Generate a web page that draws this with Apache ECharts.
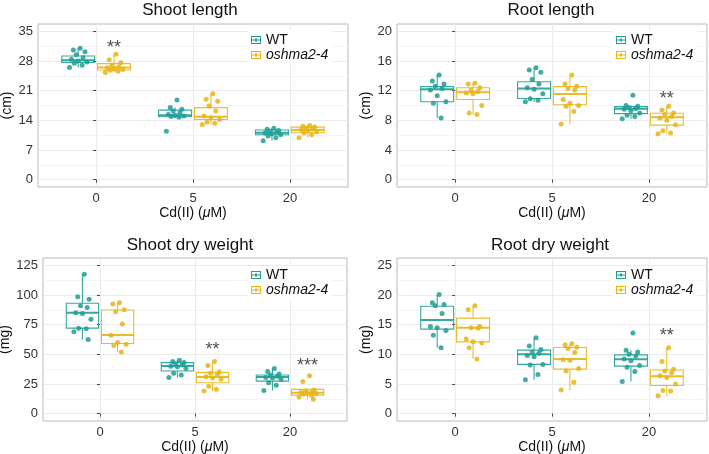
<!DOCTYPE html>
<html>
<head>
<meta charset="utf-8">
<script src="https://cdn.jsdelivr.net/npm/echarts@6/dist/echarts.min.js"></script>
<style>
  html, body { margin: 0; padding: 0; background: #fff; }
  #chart { width: 709px; height: 454px; }
</style>
</head>
<body>
<div id="chart"></div>
<script>
const doses = ['0', '5', '20'];

// Shoot length (cm)
const shootLenTicks = [0, 7, 14, 21, 28, 35];
const shootLenWT = [
  [31.0, 30.6, 30.2, 29.5, 28.8, 28.4, 28.0, 27.8, 27.5, 27.0, 26.5],
  [18.8, 17.0, 16.6, 16.2, 15.8, 15.4, 15.2, 15.0, 14.9, 14.7, 11.4],
  [12.1, 11.9, 11.6, 11.4, 11.2, 11.0, 10.8, 10.6, 10.3, 9.9, 9.2]
];
const shootLenMut = [
  [29.6, 28.3, 27.6, 27.0, 26.6, 26.4, 26.2, 26.0, 25.8, 25.6, 25.3],
  [20.3, 19.0, 18.5, 17.4, 16.2, 15.0, 14.6, 14.2, 13.6, 13.3, 13.0],
  [12.8, 12.6, 12.4, 12.2, 12.0, 11.8, 11.6, 11.3, 11.0, 10.6, 9.9]
];
// [lower whisker, Q1, median, Q3, upper whisker]
const shootLenWTBox = [[26.5, 27.65, 28.2, 29.2, 31.0], [14.5, 14.85, 15.2, 16.4, 17.0], [9.2, 10.6, 11.05, 11.7, 12.1]];
const shootLenMutBox = [[25.3, 25.9, 26.5, 27.4, 29.6], [13.0, 14.2, 14.85, 17.0, 20.3], [9.9, 11.05, 11.7, 12.4, 12.8]];
const shootLenStars = [[0, 32.0, '**']];

// Root length (cm)
const rootLenTicks = [0, 4, 8, 12, 16, 20];
const rootLenWT = [
  [14.1, 13.3, 12.9, 12.6, 12.3, 12.1, 11.3, 10.5, 10.3, 8.3],
  [15.1, 14.8, 14.5, 13.5, 12.9, 12.4, 12.2, 11.6, 10.9, 10.7, 10.5],
  [11.4, 10.0, 9.9, 9.7, 9.6, 9.5, 9.3, 9.0, 8.7, 8.5, 8.2]
];
const rootLenMut = [
  [13.0, 12.9, 12.4, 12.1, 11.9, 11.7, 11.6, 10.0, 9.0, 8.8],
  [14.1, 12.9, 12.6, 12.3, 12.1, 10.8, 10.3, 10.0, 9.9, 9.2, 7.5],
  [9.9, 9.4, 9.0, 8.8, 8.5, 8.3, 8.0, 7.4, 6.6, 6.3, 6.2]
];
const rootLenWTBox = [[8.3, 10.5, 12.2, 12.55, 14.1], [10.5, 10.95, 12.3, 13.2, 15.1], [8.2, 8.9, 9.55, 9.85, 10.0]];
const rootLenMutBox = [[8.8, 10.8, 11.8, 12.4, 13.0], [7.5, 10.1, 11.55, 12.55, 14.1], [6.2, 7.35, 8.4, 8.95, 9.9]];
const rootLenStars = [[2, 11.4, '**']];

// Shoot dry weight (mg)
const shootDwTicks = [0, 25, 50, 75, 100, 125];
const shootDwWT = [
  [117.5, 98.5, 96.5, 91, 89.5, 85, 84.5, 79.5, 72, 71.5, 69, 62.5],
  [45, 44, 43, 42, 41, 40, 39.5, 38, 34, 32.5, 30.5],
  [38, 35.5, 33.5, 32.5, 31.5, 30.5, 30, 29, 26, 24, 19.5]
];
const shootDwMut = [
  [93.5, 92.5, 87.5, 86, 75.5, 66, 60, 58.5, 57.5, 52],
  [44, 40.5, 35, 34, 33, 31, 30, 29, 23, 20.5, 19],
  [32, 27, 20, 19, 18.5, 18, 17.5, 17, 16.5, 15.5, 14, 12]
];
const shootDwWTBox = [[62.5, 72.1, 85.1, 93.1, 117.5], [30.5, 35.9, 40.2, 43.0, 45], [19.5, 27.4, 30.8, 32.5, 38]];
const shootDwMutBox = [[52, 59.1, 66.2, 87.4, 93.5], [19, 26.0, 30.8, 34.8, 44], [12, 15.6, 17.6, 20.4, 20.5]];
const shootDwStars = [[1, 57, '**'], [2, 43.5, '***']];

// Root dry weight (mg)
const rootDwTicks = [0, 5, 10, 15, 20, 25];
const rootDwWT = [
  [20.1, 18.7, 18.4, 18.2, 16.9, 14.7, 14.5, 14.0, 13.2, 11.1],
  [12.8, 11.4, 10.8, 10.4, 10.2, 9.8, 9.6, 8.3, 8.2, 6.6, 5.7],
  [13.6, 10.7, 10.4, 10.0, 9.7, 9.2, 8.9, 8.1, 7.8, 7.1, 5.4]
];
const rootDwMut = [
  [18.2, 17.5, 14.7, 14.5, 14.4, 12.6, 12.1, 11.9, 11.1, 9.2],
  [11.8, 11.6, 11.2, 11.0, 10.3, 9.1, 9.0, 7.6, 7.2, 5.3, 4.0],
  [11.1, 8.8, 7.5, 7.2, 6.9, 6.4, 6.1, 5.0, 3.9, 3.8, 3.0]
];
const rootDwWTBox = [[11.1, 14.25, 15.8, 18.1, 20.1], [5.7, 8.3, 10.0, 10.7, 12.8], [5.4, 8.0, 9.15, 9.9, 10.7]];
const rootDwMutBox = [[9.2, 12.1, 14.5, 16.1, 18.2], [4.0, 7.5, 9.2, 11.15, 11.8], [3.0, 4.75, 6.3, 7.35, 11.1]];
const rootDwStars = [[2, 13.75, '**']];

const TEAL = '#1f9e95';
const GOLD = '#e8b515';
const FONT = '"Liberation Sans", Arial, Helvetica, sans-serif';
const DODGE = 0.185;
const HALF = 0.17;
// horizontal jitter of the dots (fixed, only for placement)
const jitter = [0.02, -0.05, 0.07, -0.02, 0.05, -0.07, 0.0, 0.09, -0.04, 0.04, -0.09, 0.06];

const panels = [
  { title: 'Shoot length', unit: '(cm)', ticks: shootLenTicks, wt: shootLenWT, mut: shootLenMut,
    wtBox: shootLenWTBox, mutBox: shootLenMutBox, stars: shootLenStars,
    grid: { left: 38, top: 24, width: 310, height: 163 }, titleX: 190, titleTop: 2, yGap: 20, legendLeft: 248, legendTop: 31 },
  { title: 'Root length', unit: '(cm)', ticks: rootLenTicks, wt: rootLenWT, mut: rootLenMut,
    wtBox: rootLenWTBox, mutBox: rootLenMutBox, stars: rootLenStars,
    grid: { left: 397, top: 24, width: 310, height: 163 }, titleX: 551, titleTop: 2, yGap: 20, legendLeft: 613, legendTop: 31 },
  { title: 'Shoot dry weight', unit: '(mg)', ticks: shootDwTicks, wt: shootDwWT, mut: shootDwMut,
    wtBox: shootDwWTBox, mutBox: shootDwMutBox, stars: shootDwStars,
    grid: { left: 43, top: 258, width: 304, height: 163 }, titleX: 190, titleTop: 237, yGap: 24, legendLeft: 248, legendTop: 266 },
  { title: 'Root dry weight', unit: '(mg)', ticks: rootDwTicks, wt: rootDwWT, mut: rootDwMut,
    wtBox: rootDwWTBox, mutBox: rootDwMutBox, stars: rootDwStars,
    grid: { left: 397, top: 258, width: 310, height: 163 }, titleX: 550, titleTop: 237, yGap: 20, legendLeft: 613, legendTop: 266 }
];

const boxRender = (offset, color) => (params, api) => {
  const x = api.value(0) + offset;
  const lo = api.coord([x, api.value(1)]);
  const q1 = api.coord([x, api.value(2)]);
  const md = api.coord([x, api.value(3)]);
  const q3 = api.coord([x, api.value(4)]);
  const hi = api.coord([x, api.value(5)]);
  const hw = api.size([HALF, 0])[0];
  const cx = lo[0];
  const line = { stroke: color, lineWidth: 1.1, opacity: 0.9 };
  return {
    type: 'group',
    children: [
      { type: 'line', shape: { x1: cx, y1: hi[1], x2: cx, y2: q3[1] }, style: line },
      { type: 'line', shape: { x1: cx, y1: q1[1], x2: cx, y2: lo[1] }, style: line },
      { type: 'rect', shape: { x: cx - hw, y: q3[1], width: 2 * hw, height: q1[1] - q3[1] },
        style: { fill: 'rgba(255,255,255,0)', stroke: color, lineWidth: 1.1, opacity: 0.9 } },
      { type: 'line', shape: { x1: cx - hw, y1: md[1], x2: cx + hw, y2: md[1] }, style: { stroke: color, lineWidth: 2, opacity: 0.9 } }
    ]
  };
};

const pointsOf = (groups, offset) => {
  const out = [];
  groups.forEach((vals, i) => {
    vals.forEach((v, j) => out.push([i + offset + jitter[j % jitter.length], v]));
  });
  return out;
};

const option = {
  animation: false,
  title: [], grid: [], xAxis: [], yAxis: [], legend: [], series: []
};

const legendIcon = 'path://M0,0H10V8H0Z M1,1V7H9V1Z M1,3.5H9V4.5H1Z M4,2.5H6V5.5H4Z';

panels.forEach((p, k) => {
  const t = p.ticks;
  const step = t[1] - t[0];
  const pad = (t[t.length - 1] - t[0]) * 0.05;
  const minor = t.slice(0, -1).map(v => v + step / 2);

  option.title.push({
    text: p.title, left: p.titleX, top: p.titleTop, textAlign: 'center', padding: 0,
    textStyle: { fontFamily: FONT, fontSize: 17, fontWeight: 'normal', color: '#111' }
  });
  option.grid.push(Object.assign({ show: true, borderColor: '#b9b9b9', borderWidth: 1, backgroundColor: '#fff', outerBoundsMode: 'none' }, p.grid));
  option.xAxis.push({
    type: 'value', gridIndex: k, min: -0.6, max: 2.6,
    name: 'Cd(II) ({i|μ}M)', nameLocation: 'middle', nameGap: 18,
    nameTextStyle: { fontFamily: FONT, fontSize: 14, color: '#111', rich: { i: { fontFamily: FONT, fontSize: 14, fontStyle: 'italic', color: '#111' } } },
    axisLine: { show: false },
    axisTick: { show: true, length: 3, customValues: [0, 1, 2], lineStyle: { color: '#444' } },
    axisLabel: { customValues: [0, 1, 2], formatter: v => doses[Math.round(v)], fontFamily: FONT, fontSize: 13, color: '#333', margin: 5 },
    splitLine: { show: true, lineStyle: { color: '#ebebeb', width: 1 } }
  });
  option.yAxis.push({
    type: 'value', gridIndex: k, min: t[0] - pad, max: t[t.length - 1] + pad,
    name: p.unit, nameLocation: 'middle', nameRotate: 90, nameGap: p.yGap,
    nameTextStyle: { fontFamily: FONT, fontSize: 14, color: '#111' },
    axisLine: { show: false },
    axisTick: { show: true, length: 3, customValues: t, lineStyle: { color: '#444' } },
    axisLabel: { customValues: t, fontFamily: FONT, fontSize: 13, color: '#333', margin: 5 },
    splitLine: { show: true, lineStyle: { color: '#ebebeb', width: 1 } }
  });
  option.yAxis.push({
    type: 'value', gridIndex: k, min: t[0] - pad, max: t[t.length - 1] + pad, position: 'left',
    axisLine: { show: false },
    axisTick: { show: false, customValues: minor },
    axisLabel: { show: false, customValues: minor },
    splitLine: { show: true, lineStyle: { color: '#f4f4f4', width: 1 } }
  });
  option.legend.push({
    orient: 'vertical', left: p.legendLeft, top: p.legendTop,
    backgroundColor: '#fff', padding: [2, 4, 2, 3], itemGap: 1,
    itemWidth: 10, itemHeight: 9, icon: legendIcon,
    selectedMode: false,
    formatter: name => name === 'WT' ? name : '{i|' + name + '}',
    textStyle: { fontFamily: FONT, fontSize: 14, color: '#111', lineHeight: 13,
      rich: { i: { fontFamily: FONT, fontSize: 14, fontStyle: 'italic', color: '#111', lineHeight: 13 } } },
    data: [
      { name: 'WT', itemStyle: { color: TEAL } },
      { name: 'oshma2-4', itemStyle: { color: GOLD } }
    ]
  });

  const axes = { xAxisIndex: k, yAxisIndex: 2 * k };
  [[p.wtBox, -DODGE, TEAL, 'WT'], [p.mutBox, DODGE, GOLD, 'oshma2-4']].forEach(([boxes, off, color, name]) => {
    option.series.push(Object.assign({
      type: 'custom', name, silent: true, z: 2,
      renderItem: boxRender(off, color),
      encode: { x: 0, y: [1, 2, 3, 4, 5] },
      itemStyle: { color },
      data: boxes.map((b, i) => [i].concat(b))
    }, axes));
  });
  [[p.wt, -DODGE, TEAL, 'WT'], [p.mut, DODGE, GOLD, 'oshma2-4']].forEach(([groups, off, color, name]) => {
    option.series.push(Object.assign({
      type: 'scatter', name, silent: true, z: 3,
      symbolSize: 5,
      itemStyle: { color, opacity: 0.85 },
      data: pointsOf(groups, off)
    }, axes));
  });
  option.series.push(Object.assign({
    type: 'scatter', silent: true, z: 4,
    symbolSize: 0,
    itemStyle: { color: 'transparent' },
    label: { show: true, position: 'inside', formatter: q => q.value[2], fontFamily: FONT, fontSize: 18, color: '#222', offset: [0, 4] },
    data: p.stars.map(s => [s[0] + DODGE, s[1], s[2]])
  }, axes));
});

const chart = echarts.init(document.getElementById('chart'));
chart.setOption(option);
</script>
</body>
</html>
